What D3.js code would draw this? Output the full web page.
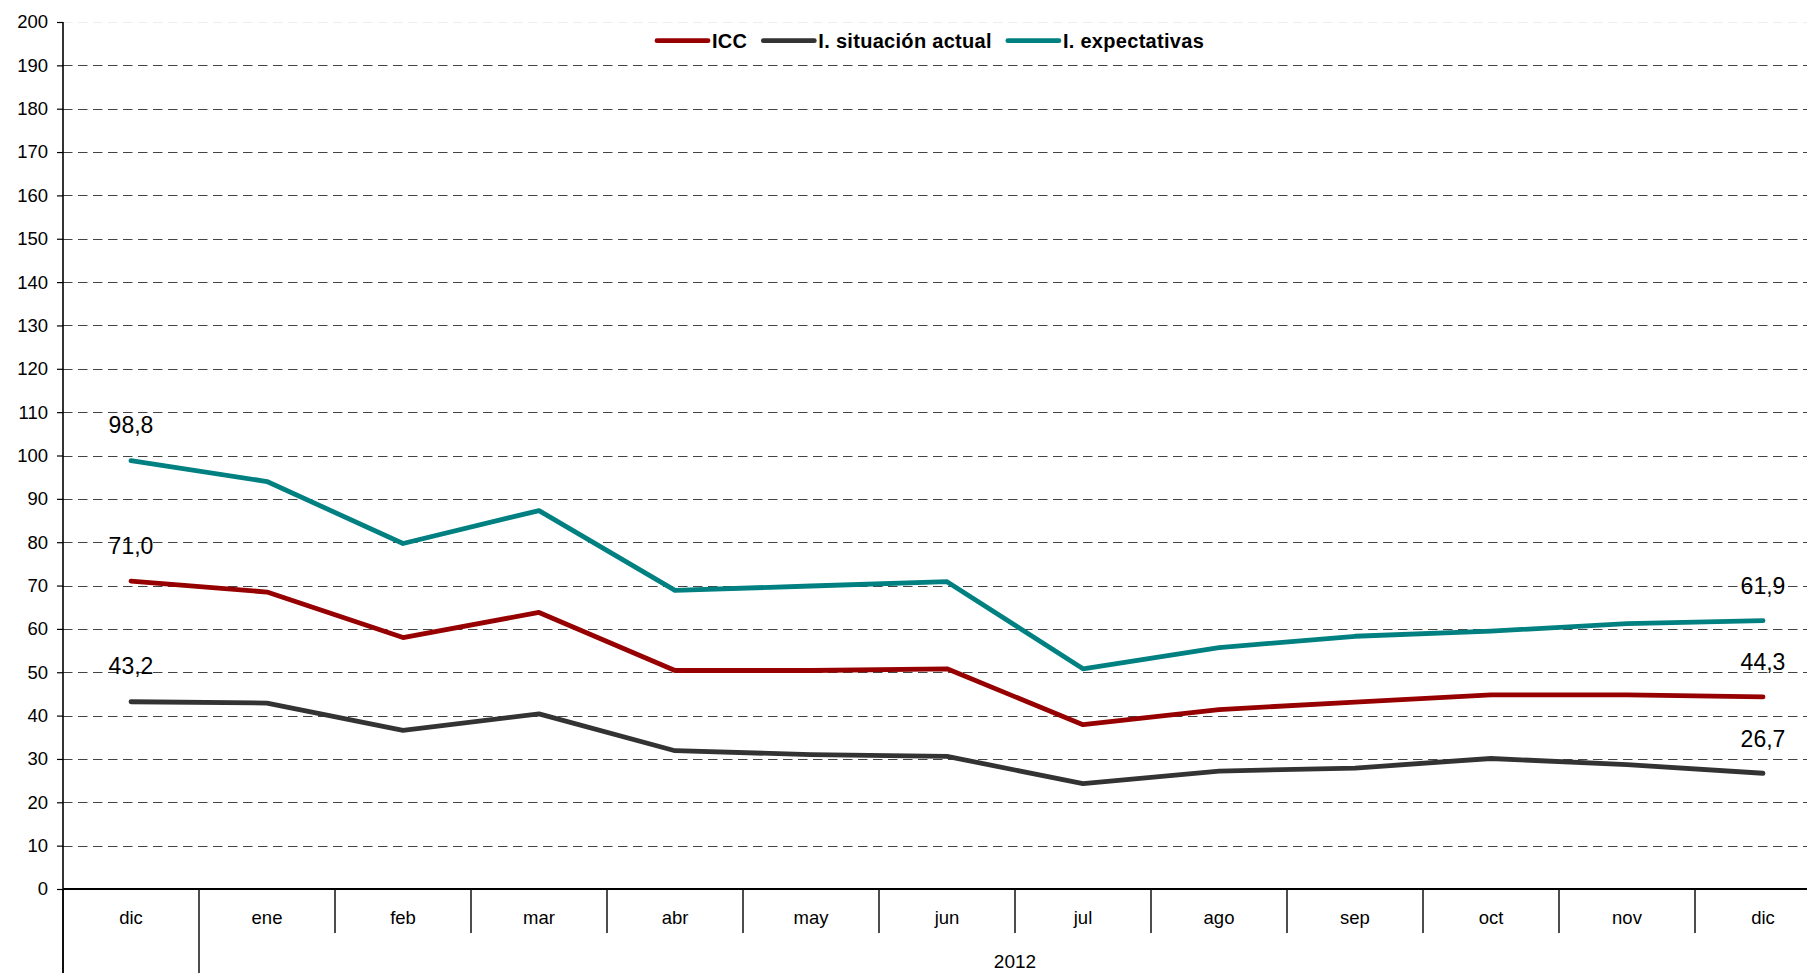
<!DOCTYPE html>
<html>
<head>
<meta charset="utf-8">
<script src="https://cdn.jsdelivr.net/npm/d3@7"></script>
<style>
  html, body { margin: 0; padding: 0; background: #fff; overflow: hidden; }
  svg { display: block; font-family: "Liberation Sans", Arial, sans-serif; }
</style>
</head>
<body>
<svg id="chart" width="1807" height="973"></svg>
<script>
// ---- Data ----
const months = ["dic", "ene", "feb", "mar", "abr", "may", "jun", "jul", "ago", "sep", "oct", "nov", "dic"];
const yearLabel = "2012";
const seriesNames = ["ICC", "I. situación actual", "I. expectativas"];
const seriesColors = ["#960000", "#333333", "#008080"];
const icc = [71.0, 68.5, 58.0, 63.8, 50.4, 50.4, 50.8, 37.9, 41.4, 43.1, 44.8, 44.8, 44.3];
const situacion = [43.2, 42.9, 36.6, 40.4, 31.9, 31.0, 30.6, 24.3, 27.2, 27.9, 30.1, 28.7, 26.7];
const expectativas = [98.8, 94.0, 79.7, 87.3, 68.9, 69.9, 70.9, 50.8, 55.7, 58.3, 59.5, 61.2, 61.9];
const yTicks = d3.range(0, 201, 10);
const labelFirst = ["71,0", "43,2", "98,8"];
const labelLast = ["44,3", "26,7", "61,9"];

const seriesValues = [icc, situacion, expectativas];

(function () {
// ---- Layout ----
const svg = d3.select("#chart");
const W = 1807, H = 973;
const mLeft = 63, mTop = 22, mBottom = 889, bandW = 136;

const x = d3.scaleBand().domain(d3.range(months.length)).range([mLeft, mLeft + bandW * months.length]).paddingInner(0).paddingOuter(0);
const y = d3.scaleLinear().domain([0, 200]).range([mBottom, mTop]);
const cx = i => x(i) + x.bandwidth() / 2;

// Gridlines
const grid = svg.append("g");
grid.selectAll("line.grid").data(yTicks.filter(v => v > 0)).join("line")
  .attr("x1", mLeft).attr("x2", W)
  .attr("y1", d => Math.round(y(d)) + 0.5).attr("y2", d => Math.round(y(d)) + 0.5)
  .attr("stroke", d => d === 200 ? "#eeeeee" : "#444")
  .attr("stroke-width", 1)
  .attr("stroke-dasharray", "9.5,5.5");

// Y axis
const yAxis = d3.axisLeft(y).tickValues(yTicks).tickSize(6).tickPadding(9).tickFormat(d3.format("d"));
const gy = svg.append("g").attr("transform", `translate(${mLeft},0)`).call(yAxis);
gy.select(".domain").remove();
gy.selectAll(".tick line").attr("stroke", "#000").attr("stroke-width", 1.2);
gy.selectAll(".tick text").attr("font-size", 18.5).attr("fill", "#000")
  .attr("font-family", "Liberation Sans, Arial, sans-serif");
svg.append("line").attr("x1", mLeft).attr("x2", mLeft).attr("y1", mTop).attr("y2", H)
  .attr("stroke", "#000").attr("stroke-width", 1.6);

// X axis baseline
svg.append("line").attr("x1", mLeft).attr("x2", W).attr("y1", mBottom).attr("y2", mBottom)
  .attr("stroke", "#000").attr("stroke-width", 2.2);

// Category separators
const bounds = d3.range(months.length + 1);
const bx = k => k < months.length ? x(k) : x(months.length - 1) + bandW;
svg.append("g").selectAll("line").data(bounds).join("line")
  .attr("x1", bx).attr("x2", bx)
  .attr("y1", mBottom).attr("y2", k => k <= 1 ? H : 933)
  .attr("stroke", "#000").attr("stroke-width", 1.4);

// Month labels
svg.append("g").selectAll("text").data(months).join("text")
  .attr("x", (d, i) => cx(i)).attr("y", 924)
  .attr("text-anchor", "middle").attr("font-size", 18.5).attr("fill", "#000")
  .text(d => d);

// Year label (spans ene..dic)
svg.append("text")
  .attr("x", (x(1) + x(months.length - 1) + bandW) / 2).attr("y", 968)
  .attr("text-anchor", "middle").attr("font-size", 19).attr("fill", "#000")
  .text(yearLabel);

// Lines
const lineGen = d3.line().x((d, i) => cx(i)).y(d => y(d));
seriesValues.forEach((vals, s) => {
  svg.append("path").datum(vals)
    .attr("d", lineGen)
    .attr("fill", "none")
    .attr("stroke", seriesColors[s])
    .attr("stroke-width", 4.8)
    .attr("stroke-linejoin", "round")
    .attr("stroke-linecap", "round");
});

// Data labels (first and last)
seriesValues.forEach((vals, s) => {
  svg.append("text").attr("x", cx(0)).attr("y", y(vals[0]) - 27.5)
    .attr("text-anchor", "middle").attr("font-size", 23).attr("fill", "#000").text(labelFirst[s]);
  const n = vals.length - 1;
  svg.append("text").attr("x", cx(n)).attr("y", y(vals[n]) - 26.5)
    .attr("text-anchor", "middle").attr("font-size", 23).attr("fill", "#000").text(labelLast[s]);
});

// Legend
const legend = svg.append("g");
let lx = 657;
const ly = 40.7;
seriesNames.forEach((name, s) => {
  legend.append("line").attr("x1", lx).attr("x2", lx + 51).attr("y1", ly).attr("y2", ly)
    .attr("stroke", seriesColors[s]).attr("stroke-width", 4.8).attr("stroke-linecap", "round");
  const t = legend.append("text").attr("x", lx + 55).attr("y", 47.7)
    .attr("font-size", 20).attr("font-weight", "bold").attr("fill", "#000")
    .attr("letter-spacing", 0.3)
    .text(name);
  const w = t.node().getComputedTextLength();
  lx = lx + 55 + w + 16;
});
})();
</script>
</body>
</html>
